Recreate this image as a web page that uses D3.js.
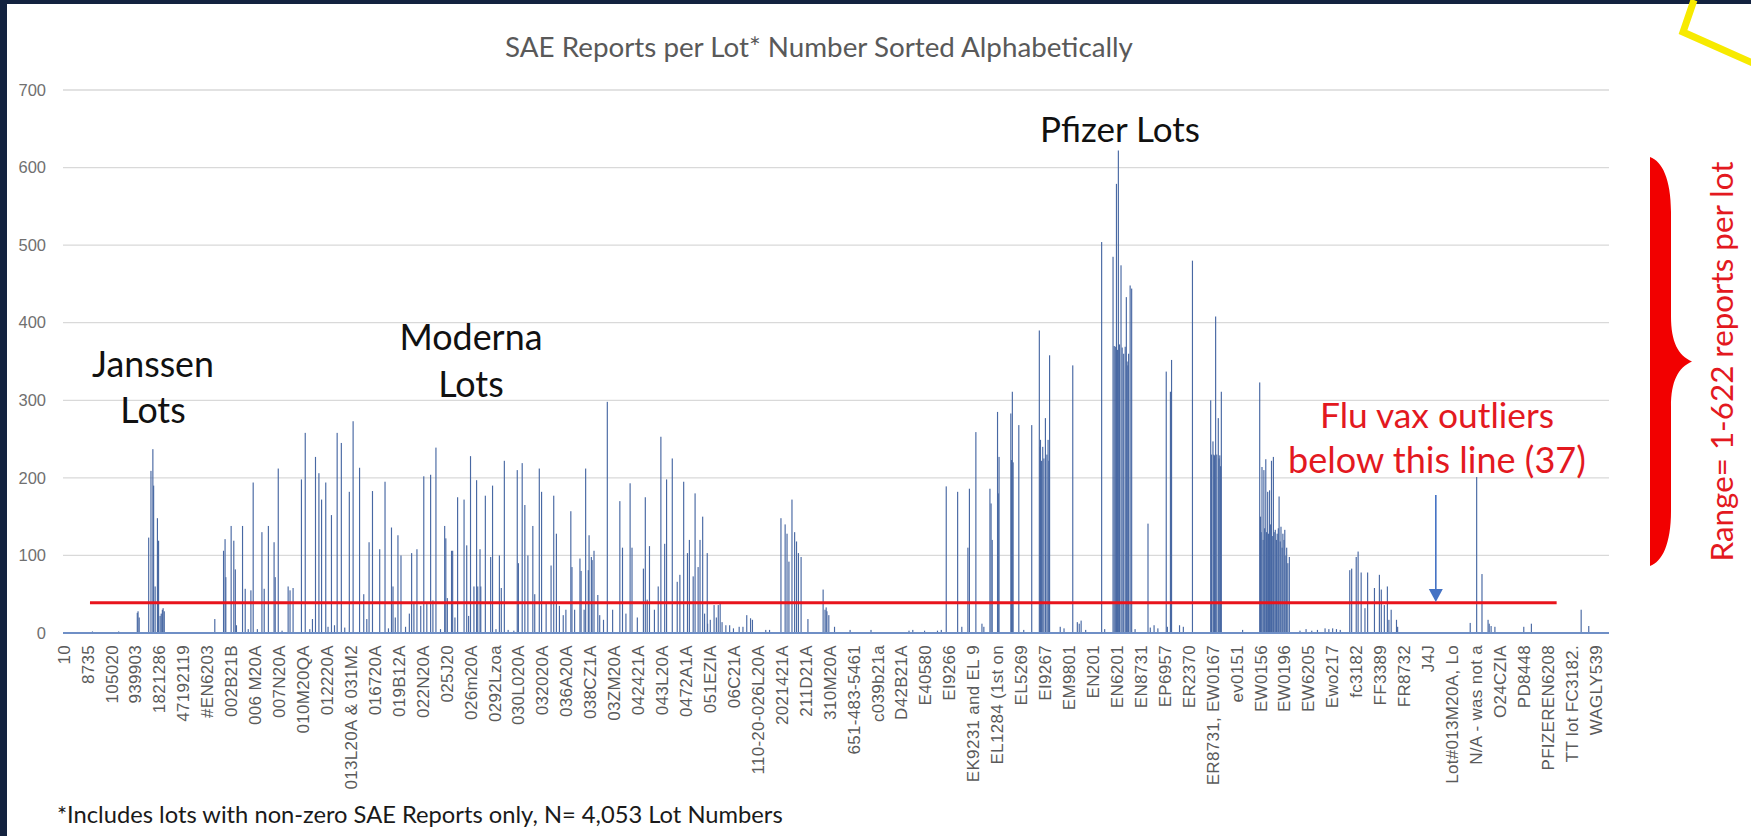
<!DOCTYPE html>
<html><head><meta charset="utf-8">
<script src="https://cdn.jsdelivr.net/npm/d3@7"></script>
<style>
html,body{margin:0;padding:0;background:#fff;}
svg{display:block;}
</style></head><body>
<svg id="chart" width="1751" height="836"></svg>
<script>
// ---------------- DATA ----------------
const tickLabels = ["10","8735","105020","939903","1821286","47192119","#EN6203","002B21B","006 M20A","007N20A","010M20QA","012220A","013L20A & 031M2","016720A","019B12A","022N20A","025J20","026m20A","0292Lzoa","030L020A","032020A","036A20A","038CZ1A","03ZM20A","042421A","043L20A","0472A1A","051EZIA","06C21A","110-20-026L20A","2021421A","211D21A","310M20A","651-483-5461","c039b21a","D42B21A","E40580","EI9266","EK9231 and EL 9","EL1284 (1st on","EL5269","EI9267","EM9801","EN201","EN6201","EN8731","EP6957","ER2370","ER8731, EW0167","ev0151","EW0156","EW0196","EW6205","Ewo217","fc3182","FF3389","FR8732","J4J","Lot#013M20A, Lo","N/A - was not a","O24CZIA","PD8448","PFIZEREN6208","TT lot FC3182.","WAGLY539"];
const lotCount = 4053;     // lots with non-zero SAE reports
const tickEvery = 63;      // one category label every 63 lots
const yTicks = [0,100,200,300,400,500,600,700];

// lot index (alphabetical position) and SAE report count
const janssenLots    = [76,145,194,196,199,224,230,235,237,241,247,250,254,257,260,262,265,398];
const janssenReports = [2,2,26,28,20,123,209,237,190,60,148,119,22,25,30,32,28,18];

const modernaLots = [421,425,427,441,448,452,455,471,478,486,493,499,510,522,528,539,554,557,565,575,591,596,604,626,636,648,655,663,672,679,690,696,705,713,720,731,740,752,762,779,790,798,804,813,832,846,855,863,867,873,880,888,900,910,916,922,930,940,948,956,966,972,980,992,1003,1006,1010,1021,1024,1030,1037,1054,1061,1066,1071,1080,1087,1090,1096,1098,1110,1124,1129,1138,1147,1152,1160,1170,1185,1194,1197,1207,1214,1222,1235,1240,1252,1258,1270,1283,1290,1297,1305,1315,1322,1335,1338,1345,1359,1362,1370,1374,1381,1383,1389,1391,1396,1406,1411,1421,1431,1445,1464,1471,1480,1491,1496,1510,1526,1531,1536,1542,1555,1565,1572,1582,1587,1602,1615,1622,1632,1642,1647,1657,1662,1670,1675,1682,1694];
const modernaReports = [106,121,72,138,119,82,10,138,57,5,55,194,5,130,57,138,117,72,212,3,60,55,58,198,258,5,18,227,206,172,194,8,152,10,258,245,7,182,273,213,50,18,117,183,108,195,6,136,60,20,126,100,8,25,103,40,108,35,202,38,204,42,239,5,138,122,45,106,106,20,175,172,113,22,228,60,197,60,108,60,177,98,190,5,100,58,222,4,3,210,90,219,165,100,138,50,212,182,40,87,177,128,35,23,30,157,85,30,96,80,30,212,81,126,98,94,106,49,23,17,298,30,170,110,25,193,110,20,83,175,43,112,30,60,253,115,198,225,66,75,195,103,120,73,180,85,120,150,103];

const otherLots    = [1687,1695,1702,1712,1718,1723,1728,1733,1743,1753,1763,1778,1788,1798,1808,1813,1848,1858,1888,1899,1904,1909,1917,1924,1929,1934,1941,1959,1999,2004,2007,2009,2014,2029,2070,2125,2225,2235,2266];
const otherReports = [25,12,17,36,20,36,38,14,10,10,6,8,8,23,19,17,4,4,148,140,128,92,172,130,118,103,98,18,56,30,33,28,23,8,4,4,3,4,3];

const pfizerLots = [2300,2310,2323,2353,2364,2380,2384,2401,2417,2422,2438,2441,2444,2458,2460,2462,2493,2495,2497,2499,2514,2527,2548,2568,2570,2571,2574,2577,2580,2584,2588,2591,2593,2595,2623,2633,2656,2668,2673,2678,2690,2732,2740,2762,2765,2768,2771,2774,2776,2779,2783,2786,2790,2794,2797,2799,2801,2803,2807,2811,2820,2854,2860,2870,2880,2902,2905,2913,2916,2937,2947,2971,3019,3021,3025,3027,3029,3032,3035,3039,3041,3043,3045,3047,3103,3148,3150,3152,3154,3157,3159,3161,3164,3166,3169,3171,3174,3176,3179,3181,3184,3186,3189,3192,3194,3197,3199,3202,3204,3207,3209,3212,3214,3217,3219,3222,3226];
const pfizerReports = [3,4,189,182,8,110,186,259,12,8,186,167,120,285,180,227,283,223,311,220,268,4,268,390,240,249,222,240,225,277,230,249,222,358,8,6,345,14,12,16,4,504,5,485,370,369,579,365,622,372,474,368,360,369,433,350,345,360,448,444,5,141,7,10,6,337,8,311,352,10,8,480,300,230,247,230,229,408,230,277,225,229,215,311,4,323,150,130,214,120,210,135,224,130,182,128,184,140,222,125,227,130,133,120,128,135,176,118,137,110,128,120,133,100,110,90,98];

const fluLots    = [3254,3270,3285,3300,3320,3330,3340,3350,3360,3385,3390,3402,3407,3415,3425,3432,3450,3463,3468,3476,3484,3488,3494,3508,3511,3702,3719,3733,3749,3752,3757,3767,3843,3863,3994,4014];
const fluReports = [3,5,3,4,6,5,6,5,4,81,83,98,105,78,32,78,58,75,56,36,60,17,30,17,8,13,201,76,17,12,9,8,8,12,30,9];

const cutoffValue = 39;           // red "outlier" line level
const cutoffFromLot = 71, cutoffToLot = 3931;
const arrowLot = 3613, arrowFrom = 178, arrowTo = 40;

// ---------------- DRAW ----------------
const svg = d3.select("#chart");
const W = 1751, H = 836;
const plot = {left: 63, right: 1603, top: 90, bottom: 633};

svg.append("rect").attr("width", W).attr("height", H).attr("fill", "#ffffff");

const x = d3.scaleBand().domain(d3.range(lotCount)).range([plot.left, plot.right]).paddingInner(0);
const y = d3.scaleLinear().domain([0, 700]).range([plot.bottom, plot.top]);

// gridlines
svg.append("g").selectAll("line").data(yTicks.filter(d => d > 0)).join("line")
  .attr("x1", plot.left).attr("x2", plot.right + 6)
  .attr("y1", d => y(d)).attr("y2", d => y(d))
  .attr("stroke", "#d9d9d9").attr("stroke-width", 1.3);

// y axis
const yAxis = d3.axisLeft(y).tickValues(yTicks).tickSize(0).tickPadding(17);
const gy = svg.append("g").attr("transform", `translate(${plot.left},0)`).call(yAxis);
gy.select(".domain").remove();
gy.selectAll("text").attr("font-family", "Liberation Sans, Arial, sans-serif")
  .attr("font-size", 16.5).attr("fill", "#707070");

// bars
const bars = [];
[[janssenLots, janssenReports], [modernaLots, modernaReports], [otherLots, otherReports],
 [pfizerLots, pfizerReports], [fluLots, fluReports]].forEach(([l, v]) => {
  l.forEach((lot, i) => bars.push({lot, v: v[i]}));
});
const bw = Math.max(1.15, x.bandwidth());
svg.append("g").selectAll("rect").data(bars).join("rect")
  .attr("x", d => x(d.lot))
  .attr("width", bw)
  .attr("y", d => y(d.v))
  .attr("height", d => y(0) - y(d.v))
  .attr("fill", "#4868a3");

// baseline
svg.append("line").attr("x1", plot.left).attr("x2", plot.right + 6)
  .attr("y1", y(0)).attr("y2", y(0)).attr("stroke", "#6f8fc6").attr("stroke-width", 2);

// x axis labels
const xAxis = d3.axisBottom(x)
  .tickValues(d3.range(0, lotCount, tickEvery))
  .tickFormat(d => tickLabels[d / tickEvery])
  .tickSize(0);
const gx = svg.append("g").attr("transform", `translate(0,${plot.bottom})`).call(xAxis);
gx.select(".domain").remove();
gx.selectAll("text")
  .attr("transform", "rotate(-90)")
  .attr("x", -12).attr("y", 0).attr("dy", "0.36em")
  .attr("text-anchor", "end")
  .attr("font-family", "Liberation Sans, Arial, sans-serif")
  .attr("font-size", 17).attr("letter-spacing", 0.3)
  .attr("fill", "#5a5a5a");

// red cutoff line
svg.append("line")
  .attr("x1", x(cutoffFromLot)).attr("x2", x(cutoffToLot))
  .attr("y1", y(cutoffValue)).attr("y2", y(cutoffValue))
  .attr("stroke", "#e8141c").attr("stroke-width", 3);

// blue arrow
const ax = x(arrowLot);
svg.append("line").attr("x1", ax).attr("x2", ax)
  .attr("y1", y(arrowFrom)).attr("y2", y(arrowTo) - 10)
  .attr("stroke", "#4472c4").attr("stroke-width", 1.6);
svg.append("path")
  .attr("d", `M${ax-7},${y(arrowTo)-13} L${ax+7},${y(arrowTo)-13} L${ax},${y(arrowTo)} Z`)
  .attr("fill", "#4472c4");

// text helper: fit a text to a target width
function fit(sel, width) {
  const w = sel.node().getComputedTextLength();
  const fs = parseFloat(sel.attr("font-size"));
  sel.attr("font-size", fs * width / w);
  return sel;
}
const sans = "Lato, 'Open Sans', sans-serif";

// title
fit(svg.append("text").attr("x", 819).attr("y", 57).attr("text-anchor", "middle")
  .attr("font-family", sans).attr("font-size", 26).attr("fill", "#595959")
  .text("SAE Reports per Lot* Number Sorted Alphabetically"), 628);

// annotations
function label(txt, cx, by, width, color) {
  return fit(svg.append("text").attr("x", cx).attr("y", by).attr("text-anchor", "middle")
    .attr("font-family", sans).attr("font-size", 32).attr("fill", color).text(txt), width);
}
const janssen = label("Janssen", 153, 377, 122, "#111");
svg.append("text").attr("x", 153).attr("y", 423).attr("text-anchor", "middle")
  .attr("font-family", sans).attr("font-size", janssen.attr("font-size")).attr("fill", "#111").text("Lots");
const moderna = label("Moderna", 471, 350, 143, "#111");
svg.append("text").attr("x", 471).attr("y", 397).attr("text-anchor", "middle")
  .attr("font-family", sans).attr("font-size", moderna.attr("font-size")).attr("fill", "#111").text("Lots");
label("Pfizer Lots", 1120, 142, 160, "#111");
label("Flu vax outliers", 1437, 428, 234, "#e3191f");
label("below this line (37)", 1437, 473, 298, "#e3191f");

// footnote
fit(svg.append("text").attr("x", 57).attr("y", 823)
  .attr("font-family", sans).attr("font-size", 22).attr("fill", "#1a1a1a")
  .text("*Includes lots with non-zero SAE Reports only, N= 4,053 Lot Numbers"), 726);

// red brace
const br = {x: 1650, top: 157, bottom: 566, body: 21, tip: 42};
const mid = (br.top + br.bottom) / 2;
svg.append("path").attr("fill", "#f20000").attr("d",
  `M${br.x},${br.top}
   C${br.x+12},${br.top+4} ${br.x+br.body},${br.top+22} ${br.x+br.body},${br.top+55}
   L${br.x+br.body},${mid-45}
   C${br.x+br.body},${mid-20} ${br.x+br.tip-14},${mid-6} ${br.x+br.tip},${mid}
   C${br.x+br.tip-14},${mid+6} ${br.x+br.body},${mid+20} ${br.x+br.body},${mid+45}
   L${br.x+br.body},${br.bottom-55}
   C${br.x+br.body},${br.bottom-22} ${br.x+12},${br.bottom-4} ${br.x},${br.bottom} Z`);

const rg = svg.append("text").attr("transform", `translate(1733,${mid}) rotate(-90)`)
  .attr("text-anchor", "middle").attr("font-family", sans).attr("font-size", 30)
  .attr("fill", "#e3191f").text("Range= 1-622 reports per lot");
fit(rg, 400);

// dark frame and yellow mark
svg.append("rect").attr("x", 0).attr("y", 0).attr("width", W).attr("height", 4).attr("fill", "#13223f");
svg.append("rect").attr("x", 0).attr("y", 0).attr("width", 7).attr("height", H).attr("fill", "#13223f");
svg.append("path").attr("d", "M1694,0 L1683,32 L1755,64").attr("fill", "none")
  .attr("stroke", "#f7ea00").attr("stroke-width", 7).attr("stroke-linejoin", "miter");
</script>
</body></html>
